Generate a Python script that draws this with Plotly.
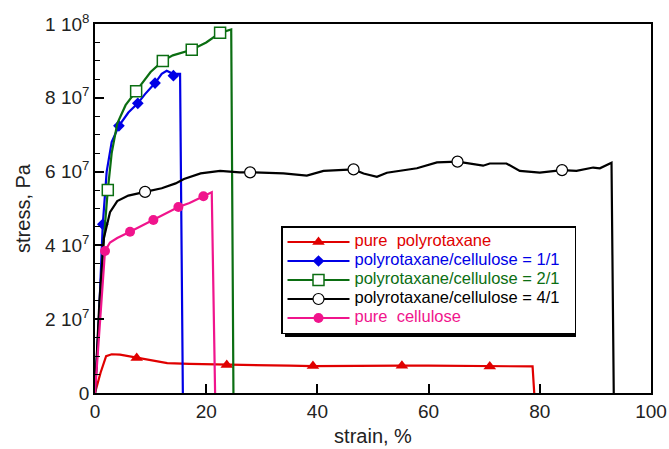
import plotly.graph_objects as go

# ---- data (strain %, stress Pa) ----
red_x = [0, 1, 2, 3, 4.5, 6, 7.5, 10, 13, 17, 20, 23.7, 30, 35, 39.2, 45, 50, 55.2, 60, 65, 71, 75, 78.7, 79]
red_y = [0, 0.55e7, 1.0e7, 1.05e7, 1.04e7, 1.0e7, 0.95e7, 0.88e7, 0.81e7, 0.79e7, 0.78e7, 0.76e7, 0.75e7,
         0.74e7, 0.73e7, 0.74e7, 0.74e7, 0.74e7, 0.74e7, 0.73e7, 0.72e7, 0.72e7, 0.72e7, 0]
red_mx = [7.5, 23.7, 39.2, 55.2, 71]
red_my = [0.95e7, 0.76e7, 0.73e7, 0.74e7, 0.72e7]

blue_x = [0, 0.7, 1.4, 2.1, 3, 4.3, 6, 7.7, 9, 10.8, 12, 12.9, 13.6, 14.1, 14.7, 15.3, 15.8]
blue_y = [0, 2e7, 4.57e7, 6e7, 6.8e7, 7.24e7, 7.6e7, 7.85e7, 8.1e7, 8.4e7, 8.65e7, 8.73e7, 8.68e7, 8.6e7,
          8.65e7, 8.65e7, 0]
blue_mx = [1.4, 4.3, 7.7, 10.8, 14.1]
blue_my = [4.57e7, 7.24e7, 7.85e7, 8.4e7, 8.6e7]

green_x = [0, 0.8, 1.5, 2.3, 3, 4, 5.5, 7.4, 10, 12.2, 14, 17.4, 20, 22.5, 24.5, 24.9]
green_y = [0, 2e7, 4e7, 5.5e7, 6.5e7, 7.3e7, 7.8e7, 8.18e7, 8.7e7, 9.0e7, 9.15e7, 9.3e7, 9.5e7, 9.76e7,
           9.85e7, 0]
green_mx = [2.3, 7.4, 12.2, 17.4, 22.5]
green_my = [5.5e7, 8.18e7, 9.0e7, 9.3e7, 9.76e7]

black_x = [0, 0.8, 1.6, 2.7, 4, 6, 9, 12, 14.5, 16, 19, 22.5, 26, 27.9, 33.9, 38.1, 41.1, 46.5, 48.3, 50.7,
           52.5, 57.9, 61.5, 65.2, 69.8, 71.0, 74.0, 76.4, 80.0, 84.0, 86.6, 89.6, 90.8, 92.9, 93.3]
black_y = [0, 2.5e7, 4.2e7, 4.9e7, 5.2e7, 5.35e7, 5.45e7, 5.55e7, 5.68e7, 5.8e7, 5.95e7, 6.02e7, 5.98e7,
           5.98e7, 5.95e7, 5.89e7, 6.02e7, 6.06e7, 5.95e7, 5.86e7, 5.97e7, 6.09e7, 6.25e7, 6.27e7, 6.16e7,
           6.22e7, 6.22e7, 6.02e7, 5.97e7, 6.04e7, 6.02e7, 6.11e7, 6.09e7, 6.24e7, 0]
black_mx = [9.0, 27.9, 46.5, 65.2, 84.0]
black_my = [5.45e7, 5.98e7, 6.06e7, 6.27e7, 6.04e7]

pink_x = [0, 1.8, 2.7, 4, 6.3, 8, 10.5, 12, 15, 17, 19.5, 21, 21.6]
pink_y = [0, 3.85e7, 4.08e7, 4.2e7, 4.37e7, 4.5e7, 4.69e7, 4.8e7, 5.04e7, 5.15e7, 5.33e7, 5.44e7, 0]
pink_mx = [1.8, 6.3, 10.5, 15, 19.5]
pink_my = [3.85e7, 4.37e7, 4.69e7, 5.04e7, 5.33e7]

names = ["pure  polyrotaxane", "polyrotaxane/cellulose = 1/1", "polyrotaxane/cellulose = 2/1",
         "polyrotaxane/cellulose = 4/1", "pure  cellulose"]

y_tickvals = [0, 2e7, 4e7, 6e7, 8e7, 1e8]
y_ticktext = ["0", "2 10<sup>7</sup>", "4 10<sup>7</sup>", "6 10<sup>7</sup>", "8 10<sup>7</sup>", "1 10<sup>8</sup>"]
x_tickvals = [0, 20, 40, 60, 80, 100]

series = [
    (red_x, red_y, red_mx, red_my, "#e00000", dict(symbol="triangle-up", size=11, color="#e00000")),
    (blue_x, blue_y, blue_mx, blue_my, "#0000e6", dict(symbol="diamond", size=9, color="#0000e6")),
    (green_x, green_y, green_mx, green_my, "#0b6e12",
     dict(symbol="square", size=11, color="white", line=dict(color="#0b6e12", width=1.5))),
    (black_x, black_y, black_mx, black_my, "#000000",
     dict(symbol="circle", size=11, color="white", line=dict(color="#000000", width=1.2))),
    (pink_x, pink_y, pink_mx, pink_my, "#f0148c", dict(symbol="circle", size=10, color="#f0148c")),
]

fig = go.Figure()
for (x, y, mx, my, col, mk), name in zip(series, names):
    fig.add_trace(go.Scatter(x=x, y=y, mode="lines", line=dict(color=col, width=2.2),
                             showlegend=False, hoverinfo="skip"))
    fig.add_trace(go.Scatter(x=mx, y=my, mode="markers", marker=mk, showlegend=False))
    fig.add_trace(go.Scatter(x=[None], y=[None], mode="lines+markers", line=dict(color=col, width=2.2),
                             marker=mk, showlegend=True,
                             name=f'<span style="color:{col};font-size:16.5px">{name}\u00a0\u00a0</span>'))

# plot-area pixel helpers for the legend shadow (plot area: x 95..651, y 24..393)
def px(x):
    return (x - 95) / 556.0

def py(y):
    return (393 - y) / 369.0

fig.add_shape(type="rect", xref="paper", yref="paper",
              x0=px(285), x1=px(576), y0=py(337), y1=py(231),
              fillcolor="black", line=dict(width=0), layer="above")

font = "Liberation Sans, Arial, sans-serif"
fig.update_layout(
    width=669, height=449,
    margin=dict(l=95, r=18, t=24, b=56),
    paper_bgcolor="white", plot_bgcolor="white",
    font=dict(family=font, size=19, color="#222"),
    showlegend=True,
    legend=dict(x=px(281), y=py(226), xanchor="left", yanchor="top",
                bgcolor="white", bordercolor="black", borderwidth=1.5,
                font=dict(family=font, size=10), itemwidth=62, tracegroupgap=0),
    xaxis=dict(range=[0, 100], tickvals=x_tickvals, ticks="inside", ticklen=9, tickwidth=1.5,
               tickcolor="black", showline=True, linecolor="black", linewidth=1.5, mirror=True,
               showgrid=False, zeroline=False, automargin=False,
               title=dict(text="strain, %", font=dict(size=20), standoff=8)),
    yaxis=dict(range=[0, 1e8], tickvals=y_tickvals, ticktext=y_ticktext, ticks="inside", ticklen=9,
               tickwidth=1.5, tickcolor="black", showline=True, linecolor="black", linewidth=1.5,
               mirror=True, showgrid=False, zeroline=False, automargin=False,
               minor=dict(dtick=5e6, ticks="inside", ticklen=5, tickcolor="black", tickwidth=1.2),
               title=dict(text="stress, Pa", font=dict(size=20), standoff=9)),
)

fig.write_html("out.html", config={"displayModeBar": False},
               post_script="document.body.style.margin='0';document.body.style.overflow='hidden';")
